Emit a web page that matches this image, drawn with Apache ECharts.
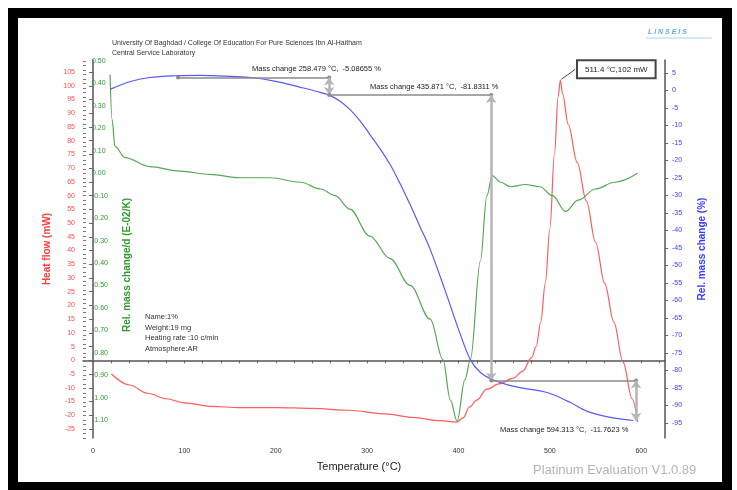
<!DOCTYPE html>
<html>
<head>
<meta charset="utf-8">
<script src="https://cdn.jsdelivr.net/npm/echarts@6/dist/echarts.min.js"></script>
<style>
  html, body { margin: 0; padding: 0; background: #fff; }
  #chart { width: 737px; height: 490px; }
</style>
</head>
<body>
<div id="chart"></div>
<script>
// heat flow (mW), red, left axis
const heatT = [20, 40, 60, 80, 100, 130, 160, 200, 240, 280, 320, 350, 380, 398, 405, 412, 420, 431, 445, 460, 470, 480, 485, 490, 495, 500, 505, 509, 511.4, 514, 520, 530, 540, 550, 560, 570, 580, 590, 596];
const heatV = [-5, -9, -12, -14, -15.5, -16.8, -17.2, -17.2, -17.5, -18.2, -19.5, -20.8, -22, -22.5, -21, -17, -14.5, -10.5, -8.5, -6.5, -4, 1, 5, 14, 28, 48, 75, 96, 102, 97, 86, 72, 58, 43, 28, 14, -0.5, -14, -22.5];

// DTG rel. mass change/d (E-02/K), green, left inner axis
const dtgT = [18.6, 20.8, 24, 35, 62, 95, 128, 161, 194, 227, 249, 265, 281, 303, 325, 347, 369, 383, 391, 398.5, 407, 413, 424, 431, 437, 446, 457, 473, 489, 503, 517, 531, 550, 571, 596];
const dtgV = [0.44, 0.24, 0.12, 0.07, 0.03, 0.01, -0.005, -0.02, -0.02, -0.04, -0.07, -0.10, -0.16, -0.28, -0.38, -0.50, -0.65, -0.83, -1.01, -1.105, -0.92, -0.83, -0.39, -0.10, -0.01, -0.04, -0.06, -0.05, -0.06, -0.10, -0.17, -0.12, -0.07, -0.04, 0.00];

// TG rel. mass change (%), blue, right axis
const tgT = [18.6, 40, 62, 90, 117, 145, 172, 200, 227, 245, 259, 270, 281, 292, 303, 314, 325, 336, 347, 358, 369, 385, 402, 413, 424, 437, 452, 467, 497, 522, 541, 566, 591];
const tgV = [0.3, 2.5, 3.7, 4.2, 4.3, 4.1, 3.7, 2.6, 0.9, -0.3, -1.4, -3.0, -5.4, -8.6, -12.6, -16.6, -21.1, -26.6, -32.6, -39.0, -45.4, -56.9, -69.7, -76.9, -80.6, -82.6, -84.0, -84.9, -86.3, -89.1, -91.7, -93.4, -94.3];

const tempLabels = [0, 100, 200, 300, 400, 500, 600];
const heatLabels = [-25, -20, -15, -10, -5, 0, 5, 10, 15, 20, 25, 30, 35, 40, 45, 50, 55, 60, 65, 70, 75, 80, 85, 90, 95, 100, 105];
const dtgLabels = [-1.1, -1.0, -0.9, -0.8, -0.7, -0.6, -0.5, -0.4, -0.3, -0.2, -0.1, 0.0, 0.1, 0.2, 0.3, 0.4, 0.5];
const tgLabels = [-95, -90, -85, -80, -75, -70, -65, -60, -55, -50, -45, -40, -35, -30, -25, -20, -15, -10, -5, 0, 5];

// mass change markers: [temperature, rel. mass change]
const step1 = [[93, 3.7], [258.479, 3.7], [258.479, -1.3]];
const step2 = [[258.479, -1.3], [435.871, -1.3], [435.871, -82.9]];
const step3 = [[435.871, -82.9], [594.313, -82.9], [594.313, -94.4]];
const peak = [511.4, 102];

const zip = (a, b) => a.map((v, i) => [v, b[i]]);

const tempTicks = [];
for (let t = 0; t <= 620; t += 20) tempTicks.push(t);
const dtgTicks = [];
for (let k = -59; k <= 25; k++) dtgTicks.push(+(k * 0.02).toFixed(2));

var chartDom = document.getElementById('chart');
var myChart = echarts.init(chartDom);

const font = 'Liberation Sans, Arial, sans-serif';
function hLine(a, b) {
  return [
    { coord: a, symbol: 'circle', symbolSize: 4, lineStyle: { color: '#8a8a8a', width: 1.5, type: 'solid' } },
    { coord: b, symbol: 'circle', symbolSize: 4 }
  ];
}
function vArrow(a, b) {
  return [
    { coord: a, symbol: 'arrow', symbolSize: 8, lineStyle: { color: '#b5b5b5', width: 2.5, type: 'solid' } },
    { coord: b, symbol: 'arrow', symbolSize: 8 }
  ];
}

var option = {
  animation: false,
  textStyle: { fontFamily: font },
  grid: { left: 83, right: 72, top: 60, bottom: 52 },
  xAxis: {
    type: 'value',
    min: -11,
    max: 626,
    splitLine: { show: false },
    axisLine: { lineStyle: { color: '#555', width: 1.5 } },
    axisTick: { customValues: tempTicks, length: 3, lineStyle: { color: '#666' } },
    axisLabel: { customValues: tempLabels, color: '#333', fontSize: 7, margin: 10 },
    name: 'Temperature (°C)',
    nameLocation: 'middle',
    nameGap: 23,
    nameTextStyle: { color: '#222', fontSize: 11, padding: [0, 30, 0, 0] }
  },
  yAxis: [
    {
      type: 'value',
      position: 'left',
      min: -28.3,
      max: 109.4,
      splitLine: { show: false },
      axisLine: { show: true, lineStyle: { color: '#555', width: 1.5 } },
      axisTick: { customValues: heatLabels, length: 4, lineStyle: { color: '#666' } },
      axisLabel: { customValues: heatLabels, color: '#ff4d4d', fontSize: 7, margin: 8 },
      name: 'Heat flow (mW)',
      nameLocation: 'middle',
      nameRotate: 90,
      nameGap: 30,
      nameTextStyle: { color: '#ff3b3b', fontSize: 10, fontWeight: 'bold' }
    },
    {
      type: 'value',
      position: 'left',
      min: -1.18,
      max: 0.505,
      splitLine: { show: false },
      axisLine: { show: false },
      axisTick: { show: true, inside: true, customValues: dtgTicks, length: 3, lineStyle: { color: '#777' } },
      axisLabel: {
        customValues: dtgLabels, inside: true, margin: 9, color: '#2f9a2f', fontSize: 7,
        formatter: function (v) { return v.toFixed(2); }
      }
    },
    {
      type: 'value',
      position: 'right',
      min: -99.3,
      max: 8.7,
      splitLine: { show: false },
      axisLine: { show: true, lineStyle: { color: '#555', width: 1.5 } },
      axisTick: { customValues: tgLabels, length: 3, lineStyle: { color: '#666' } },
      axisLabel: { customValues: tgLabels, color: '#3a3aff', fontSize: 7, margin: 7 },
      name: 'Rel. mass change (%)',
      nameLocation: 'middle',
      nameRotate: 90,
      nameGap: 32,
      nameTextStyle: { color: '#3a3aff', fontSize: 10, fontWeight: 'bold', padding: [0, 0, 20, 0] }
    }
  ],
  series: [
    {
      name: 'Heat flow',
      type: 'line',
      yAxisIndex: 0,
      data: zip(heatT, heatV),
      showSymbol: false,
      smooth: 0.35,
      smoothMonotone: 'x',
      lineStyle: { color: '#ff5c5c', width: 1.2 },
      itemStyle: { color: '#ff5c5c' },
      markPoint: {
        symbol: 'circle',
        symbolSize: 1,
        itemStyle: { color: '#ff5c5c' },
        data: [{
          coord: peak,
          label: {
            show: true,
            formatter: peak[0] + ' °C,' + peak[1] + ' mW',
            position: 'inside',
            offset: [56, -11],
            color: '#222',
            fontSize: 8,
            backgroundColor: '#fff',
            borderColor: '#444',
            borderWidth: 2,
            padding: [4, 7]
          }
        }]
      }
    },
    {
      name: 'DTG',
      type: 'line',
      yAxisIndex: 1,
      data: zip(dtgT, dtgV),
      showSymbol: false,
      smooth: 0.35,
      smoothMonotone: 'x',
      lineStyle: { color: '#56a856', width: 1.2 }
    },
    {
      name: 'TG',
      type: 'line',
      yAxisIndex: 2,
      data: zip(tgT, tgV),
      showSymbol: false,
      smooth: 0.35,
      lineStyle: { color: '#5858ff', width: 1.2 },
      markLine: {
        silent: true,
        label: { show: false },
        itemStyle: { color: '#333' },
        data: [
          hLine(step1[0], step1[1]),
          vArrow(step1[1], step1[2]),
          hLine(step2[0], step2[1]),
          vArrow(step2[1], step2[2]),
          hLine(step3[0], step3[1]),
          vArrow(step3[1], step3[2])
        ]
      }
    }
  ],
  graphic: [
    { type: 'rect', shape: { x: 8.5, y: 8.5, width: 723, height: 490 }, style: { fill: 'none', stroke: '#999', lineWidth: 1 }, z: 100 },
    { type: 'rect', shape: { x: 13, y: 13, width: 714, height: 474 }, style: { fill: 'none', stroke: '#000', lineWidth: 10 }, z: 100 },
    { type: 'text', x: 127, y: 265, rotation: Math.PI / 2, style: { text: 'Rel. mass change/d (E-02/K)', fill: '#2f9a2f', font: 'bold 10px ' + font, align: 'center', verticalAlign: 'middle' } },
    { type: 'text', left: 112, top: 40, style: { text: 'University Of Baghdad / College Of Education For Pure Sciences Ibn Al-Haitham', fill: '#333', font: '7px ' + font } },
    { type: 'text', left: 112, top: 50, style: { text: 'Central Service Laboratory', fill: '#333', font: '7px ' + font } },
    { type: 'text', left: 252, top: 65, style: { text: 'Mass change 258.479 °C,  -5.08655 %', fill: '#222', font: '7.5px ' + font } },
    { type: 'text', left: 370, top: 83, style: { text: 'Mass change 435.871 °C,  -81.8311 %', fill: '#222', font: '7.5px ' + font } },
    { type: 'text', left: 500, top: 426, style: { text: 'Mass change 594.313 °C,  -11.7623 %', fill: '#222', font: '7.5px ' + font } },
    { type: 'text', left: 145, top: 313, style: { text: 'Name:1%', fill: '#333', font: '7.5px ' + font } },
    { type: 'text', left: 145, top: 324, style: { text: 'Weight:19 mg', fill: '#333', font: '7.5px ' + font } },
    { type: 'text', left: 145, top: 334, style: { text: 'Heating rate :10 c/min', fill: '#333', font: '7.5px ' + font } },
    { type: 'text', left: 145, top: 345, style: { text: 'Atmosphere:AR', fill: '#333', font: '7.5px ' + font } },
    { type: 'text', left: 533, top: 464, style: { text: 'Platinum Evaluation V1.0.89', fill: '#b4b4b4', font: '13px ' + font } },
    { type: 'text', left: 648, top: 29, style: { text: 'L I N S E I S', fill: '#5aaee0', font: 'italic bold 7px ' + font } },
    { type: 'line', shape: { x1: 646, y1: 38, x2: 712, y2: 38 }, style: { stroke: '#a8d4f0', lineWidth: 1 } }
  ]
};
myChart.setOption(option);

// short connector from the heat-flow peak to its label box
var p = myChart.convertToPixel({ xAxisIndex: 0, yAxisIndex: 0 }, peak);
myChart.setOption({
  graphic: option.graphic.concat([
    { type: 'line', shape: { x1: p[0] + 1, y1: p[1] - 1, x2: p[0] + 15, y2: p[1] - 11 }, style: { stroke: '#444', lineWidth: 1 }, z: 50 }
  ])
});
</script>
</body>
</html>
